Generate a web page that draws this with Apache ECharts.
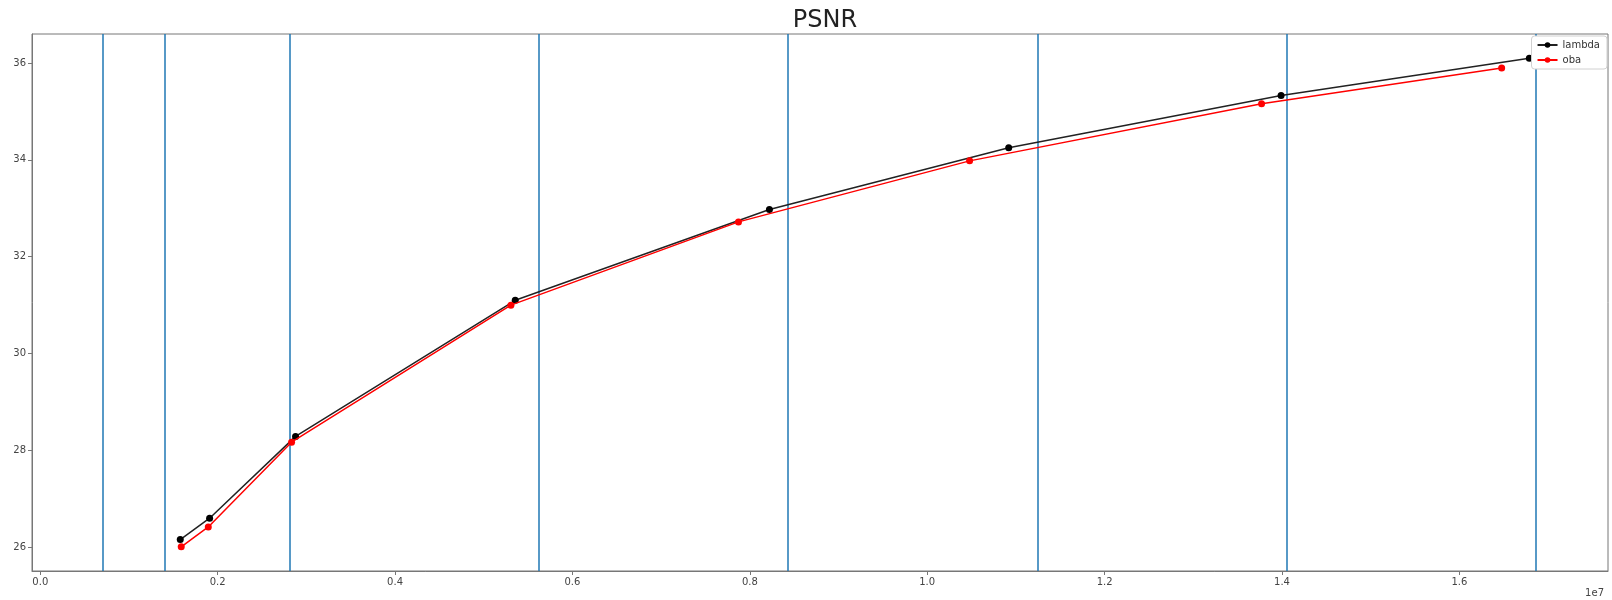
<!DOCTYPE html>
<html>
<head>
<meta charset="utf-8">
<script src="https://cdn.jsdelivr.net/npm/echarts@6/dist/echarts.min.js"></script>
<style>
  html, body { margin: 0; padding: 0; background: #fff; }
  #chart { width: 1612px; height: 600px; }
</style>
</head>
<body>
<div id="chart"></div>
<script>
// bitrate (x) and PSNR (y)
const lambdaRate = [1578000, 1909000, 2878000, 5355000, 8221000, 10919000, 13990000, 16789000]
const lambdaPsnr = [26.16, 26.60, 28.29, 31.10, 32.975, 34.25, 35.33, 36.10]
const obaRate = [1589000, 1894000, 2833000, 5306000, 7872000, 10478000, 13770000, 16477000]
const obaPsnr = [26.01, 26.42, 28.17, 31.00, 32.72, 33.98, 35.16, 35.90]

// blue vertical reference lines
const rateLines = [702720, 1405440, 2810880, 5621760, 8432640, 11243520, 14054400, 16865280]

// tick labels
const xTicks = [0, 2000000, 4000000, 6000000, 8000000, 10000000, 12000000, 14000000, 16000000]
const yTicks = [26, 28, 30, 32, 34, 36]

const zip = (xs, ys) => xs.map((x, i) => [x, ys[i]])

const chart = echarts.init(document.getElementById('chart'))

const font = 'DejaVu Sans'

const option = {
  animation: false,
  textStyle: { fontFamily: font },
  title: {
    text: 'PSNR',
    left: 820,
    textAlign: 'center',
    top: 4,
    textStyle: { fontFamily: font, fontSize: 24, fontWeight: 'normal', color: '#222' }
  },
  legend: {
    orient: 'vertical',
    right: 5,
    top: 36,
    itemWidth: 20,
    itemHeight: 7,
    itemGap: 5,
    padding: [4, 7, 4, 5],
    backgroundColor: '#fff',
    borderColor: '#d0d0d0',
    borderWidth: 1,
    borderRadius: 3,
    textStyle: { fontFamily: font, fontSize: 10, color: '#333' },
    data: ['lambda', 'oba']
  },
  grid: {
    left: 32,
    right: 4,
    top: 34,
    bottom: 29,
    show: true,
    borderColor: '#777',
    borderWidth: 1,
    containLabel: false
  },
  xAxis: {
    type: 'value',
    min: -93600,
    max: 17676000,
    axisLine: { show: true, onZero: false, lineStyle: { color: '#777', width: 1 } },
    axisTick: { show: true, length: 4, lineStyle: { color: '#777' }, customValues: xTicks },
    axisLabel: {
      margin: 6,
      fontSize: 10,
      color: '#444',
      customValues: xTicks,
      formatter: v => (v / 1e7).toFixed(1)
    },
    splitLine: { show: false }
  },
  yAxis: {
    type: 'value',
    min: 25.51,
    max: 36.6,
    axisLine: { show: true, onZero: false, lineStyle: { color: '#777', width: 1 } },
    axisTick: { show: true, length: 4, lineStyle: { color: '#777' }, customValues: yTicks },
    axisLabel: {
      margin: 6,
      fontSize: 10,
      color: '#444',
      customValues: yTicks,
      formatter: v => String(v)
    },
    splitLine: { show: false }
  },
  graphic: [
    {
      type: 'text',
      right: 8,
      bottom: 2,
      style: { text: '1e7', fontFamily: font, fontSize: 10, fill: '#444' }
    }
  ],
  series: [
    {
      name: 'lambda',
      type: 'line',
      data: zip(lambdaRate, lambdaPsnr),
      symbol: 'circle',
      symbolSize: 7,
      color: '#111',
      lineStyle: { color: '#222', width: 1.5 },
      itemStyle: { color: '#000' },
      z: 3,
      markLine: {
        silent: true,
        symbol: ['none', 'none'],
        label: { show: false },
        lineStyle: { color: '#1f77b4', width: 1.5, type: 'solid' },
        data: rateLines.map(v => ({ xAxis: v })),
        z: 1
      }
    },
    {
      name: 'oba',
      type: 'line',
      data: zip(obaRate, obaPsnr),
      symbol: 'circle',
      symbolSize: 7,
      color: '#ff0000',
      lineStyle: { color: '#ff0000', width: 1.5 },
      itemStyle: { color: '#ff0000' },
      z: 4
    }
  ]
}

chart.setOption(option)
</script>
</body>
</html>
